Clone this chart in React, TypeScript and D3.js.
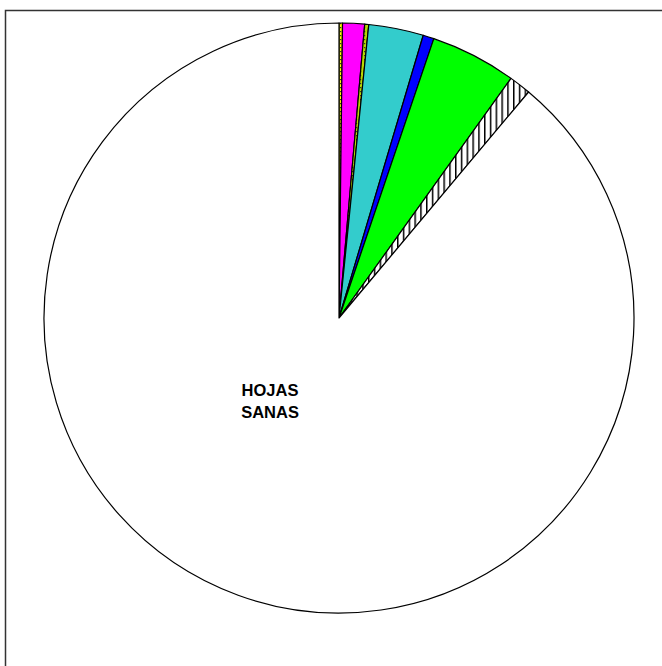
import React from "react";
import * as d3 from "d3";

const categories = ["A", "B", "C", "D", "E", "F", "G", "HOJAS SANAS"];
const values = [0.19, 1.2, 0.22, 3.0, 0.6, 4.7, 1.2, 88.89];
const fills = ["url(#dotsY)", "#FF00FF", "url(#dotsG)", "#33CCCC", "#0000FF", "#00FF00", "url(#vstripe)", "#FFFFFF"];
const labelLines = [[], [], [], [], [], [], [], ["HOJAS", "SANAS"]];

export default function App() {
  const W = 662, H = 666;
  const cx = 339, cy = 318, r = 295;
  const pie = d3.pie<number>().sort(null).value((d) => d);
  const arcs = pie(values);
  const arc = d3.arc<d3.PieArcDatum<number>>().innerRadius(0).outerRadius(r);
  // label anchor offset (relative to pie centre) for the big slice
  const labelPos = { x: -69, y: 78 };
  return (
    <svg width={W} height={H} style={{ position: "absolute", left: 0, top: 0, background: "#fff" }}>
      <defs>
        <pattern id="dotsY" width="4" height="4" patternUnits="userSpaceOnUse">
          <rect width="4" height="4" fill="#FFFF00" />
          <rect x="1" y="1" width="1.2" height="1.2" fill="#333" />
        </pattern>
        <pattern id="dotsG" width="4" height="4" patternUnits="userSpaceOnUse">
          <rect width="4" height="4" fill="#B8D800" />
          <rect x="1" y="1" width="1.2" height="1.2" fill="#333" />
        </pattern>
        <pattern id="vstripe" width="5.8" height="6" patternUnits="userSpaceOnUse">
          <rect width="5.8" height="6" fill="#FFFFFF" />
          <rect x="0" y="0" width="1.5" height="6" fill="#000" />
        </pattern>
      </defs>
      <rect x={5.5} y={10.5} width={W + 20} height={H + 20} fill="none" stroke="#333" strokeWidth={1.5} />
      <g transform={`translate(${cx},${cy})`}>
        {arcs.map((a, i) => (
          <path key={categories[i]} d={arc(a) || ""} fill={fills[i]} stroke="#000" strokeWidth={1.2} strokeLinejoin="round" />
        ))}
        {arcs.map((a, i) => {
          if (!labelLines[i].length) return null;
          return (
            <text key={"l" + i} x={labelPos.x} y={labelPos.y} textAnchor="middle" fontFamily="Liberation Sans, Arial, sans-serif" fontWeight="bold" fontSize={16.5} fill="#000">
              {labelLines[i].map((t, j) => (
                <tspan key={j} x={labelPos.x} dy={j === 0 ? 0 : 22}>{t}</tspan>
              ))}
            </text>
          );
        })}
      </g>
    </svg>
  );
}
